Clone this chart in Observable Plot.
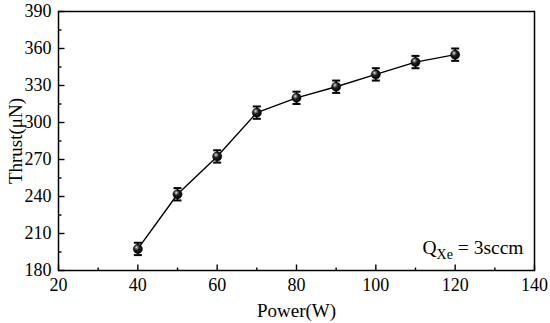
<!DOCTYPE html>
<html><head><meta charset="utf-8">
<script src="https://cdn.jsdelivr.net/npm/d3@7"></script>
<script src="https://cdn.jsdelivr.net/npm/@observablehq/plot@0.6"></script>
<style>body{margin:0;background:#fff}</style>
</head><body><div id="chart"></div>
<script>
const power = [40, 50, 60, 70, 80, 90, 100, 110, 120];
const thrust = [197.5, 241.8, 272.5, 308, 320, 329, 339, 349, 355];
const errorBar = [5, 5, 5, 5, 5, 5, 5, 5, 5];
const xMajor = [20, 40, 60, 80, 100, 120, 140];
const xMinor = [30, 50, 70, 90, 110, 130];
const yMajor = [180, 210, 240, 270, 300, 330, 360, 390];
const yMinor = [195, 225, 255, 285, 315, 345, 375];
const xLabel = "Power(W)";
const yLabel = "Thrust(μN)";
const noteParts = ["Q", "Xe", " = 3sccm"];

const data = power.map((p, i) => ({p, t: thrust[i], lo: thrust[i] - errorBar[i], hi: thrust[i] + errorBar[i]}));

const capSym = {draw(ctx) { ctx.moveTo(-4, 0); ctx.lineTo(4, 0); }};
const upTick = len => ({draw(ctx) { ctx.moveTo(0, 0); ctx.lineTo(0, -len); }});
const rightTick = len => ({draw(ctx) { ctx.moveTo(0, 0); ctx.lineTo(len, 0); }});

const chart = Plot.plot({
  width: 550,
  height: 323,
  marginLeft: 58,
  marginRight: 16,
  marginTop: 11,
  marginBottom: 53,
  style: {fontFamily: "'Liberation Serif', 'Times New Roman', serif", fontSize: "18px", background: "#fff", color: "#000"},
  x: {domain: [20, 140]},
  y: {domain: [180, 390]},
  marks: [
    Plot.axisX(xMajor, {tickSize: 0, tickPadding: 8, label: null, fontSize: 18}),
    Plot.axisY(yMajor, {tickSize: 0, tickPadding: 7, label: null, fontSize: 18}),
    Plot.dot(xMajor, {x: d => d, frameAnchor: "bottom", symbol: upTick(6), stroke: "black", strokeWidth: 1.4, fill: "none"}),
    Plot.dot(xMinor, {x: d => d, frameAnchor: "bottom", symbol: upTick(3), stroke: "black", strokeWidth: 1.4, fill: "none"}),
    Plot.dot(yMajor, {y: d => d, frameAnchor: "left", symbol: rightTick(6), stroke: "black", strokeWidth: 1.4, fill: "none"}),
    Plot.dot(yMinor, {y: d => d, frameAnchor: "left", symbol: rightTick(3), stroke: "black", strokeWidth: 1.4, fill: "none"}),
    Plot.line(data, {x: "p", y: "t", stroke: "black", strokeWidth: 1.4}),
    Plot.ruleX(data, {x: "p", y1: "lo", y2: "hi", stroke: "black", strokeWidth: 1.5}),
    Plot.dot(data, {x: "p", y: "lo", symbol: capSym, stroke: "black", strokeWidth: 2, fill: "none"}),
    Plot.dot(data, {x: "p", y: "hi", symbol: capSym, stroke: "black", strokeWidth: 2, fill: "none"}),
    Plot.dot(data, {x: "p", y: "t", r: 4.6, fill: "url(#ball)", stroke: "#000", strokeWidth: 0.5}),
    Plot.frame({stroke: "black", strokeWidth: 1.5}),
    Plot.text([xLabel], {text: d => d, frameAnchor: "bottom", dy: 40, textAnchor: "middle", lineAnchor: "middle", fontSize: 19}),
    Plot.text([yLabel], {text: d => d, frameAnchor: "left", dx: -43, rotate: -90, textAnchor: "middle", lineAnchor: "middle", fontSize: 19}),
    Plot.text([noteParts.join("")], {text: d => d, frameAnchor: "bottom-right", dx: -11, dy: -17, textAnchor: "end", lineAnchor: "bottom", fontSize: 19.5})
  ]
});

// gradient for the shaded ball markers
const ns = "http://www.w3.org/2000/svg";
const defs = document.createElementNS(ns, "defs");
const grad = document.createElementNS(ns, "radialGradient");
grad.setAttribute("id", "ball");
grad.setAttribute("cx", "0.4"); grad.setAttribute("cy", "0.38"); grad.setAttribute("r", "0.65");
grad.setAttribute("fx", "0.36"); grad.setAttribute("fy", "0.32");
[["0", "#e8e8e8"], ["0.18", "#8a8a8a"], ["0.45", "#1e1e1e"], ["1", "#000000"]].forEach(([o, c]) => {
  const s = document.createElementNS(ns, "stop");
  s.setAttribute("offset", o); s.setAttribute("stop-color", c);
  grad.appendChild(s);
});
defs.appendChild(grad);
chart.insertBefore(defs, chart.firstChild);

// subscript in the note
chart.querySelectorAll("text").forEach(t => {
  if (t.textContent === noteParts.join("")) {
    const tspanHost = t.querySelector("tspan") || t;
    tspanHost.textContent = "";
    const a = document.createElementNS(ns, "tspan"); a.textContent = noteParts[0];
    const b = document.createElementNS(ns, "tspan"); b.textContent = noteParts[1];
    b.setAttribute("dy", "5"); b.setAttribute("font-size", "14");
    const c = document.createElementNS(ns, "tspan"); c.textContent = noteParts[2];
    c.setAttribute("dy", "-5");
    tspanHost.append(a, b, c);
  }
});

document.getElementById("chart").appendChild(chart);
</script>
</body></html>
